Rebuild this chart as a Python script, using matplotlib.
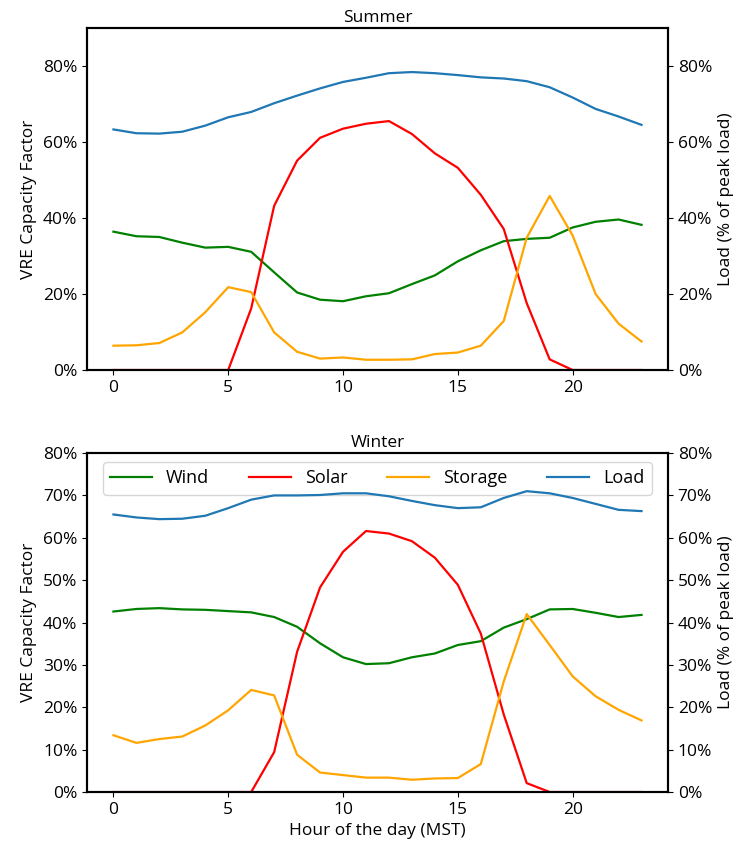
import matplotlib
matplotlib.use("Agg")
import matplotlib.pyplot as plt
from matplotlib.ticker import PercentFormatter

plt.rcParams['font.family'] = ['Open Sans', 'DejaVu Sans']

hours = list(range(24))

summer_wind = [36.4, 35.2, 35.0, 33.5, 32.2, 32.4, 31.1, 25.7, 20.4, 18.5, 18.1, 19.4,
               20.2, 22.6, 24.9, 28.6, 31.5, 33.9, 34.5, 34.8, 37.5, 39.0, 39.6, 38.2]
summer_solar = [0, 0, 0, 0, 0, 0, 16.2, 43.2, 55.1, 61.1, 63.5, 64.8,
                65.5, 62.1, 57.0, 53.2, 46.1, 37.1, 17.6, 2.8, 0, 0, 0, 0]
summer_storage = [6.4, 6.5, 7.1, 9.9, 15.2, 21.8, 20.5, 9.9, 4.8, 3.0, 3.3, 2.7,
                  2.7, 2.8, 4.2, 4.6, 6.4, 12.9, 34.8, 45.8, 35.4, 20.0, 12.2, 7.5]
summer_load = [63.3, 62.3, 62.2, 62.7, 64.3, 66.5, 67.9, 70.2, 72.2, 74.1, 75.8, 76.9,
               78.1, 78.4, 78.1, 77.6, 77.0, 76.7, 76.0, 74.4, 71.7, 68.7, 66.7, 64.5]

winter_wind = [42.6, 43.2, 43.4, 43.1, 43.0, 42.7, 42.4, 41.3, 39.0, 35.1, 31.8, 30.2,
               30.4, 31.8, 32.7, 34.7, 35.6, 38.8, 40.8, 43.1, 43.2, 42.3, 41.3, 41.8]
winter_solar = [0, 0, 0, 0, 0, 0, 0, 9.4, 33.1, 48.3, 56.7, 61.6,
                61.0, 59.2, 55.3, 48.9, 37.4, 18.3, 2.1, 0, 0, 0, 0, 0]
winter_storage = [13.4, 11.6, 12.5, 13.1, 15.7, 19.3, 24.1, 22.8, 8.8, 4.6, 4.0, 3.4,
                  3.4, 2.9, 3.2, 3.3, 6.6, 26.1, 42.0, 34.7, 27.3, 22.6, 19.4, 16.9]
winter_load = [65.5, 64.8, 64.4, 64.5, 65.2, 67.0, 69.0, 70.0, 70.0, 70.1, 70.5, 70.5,
               69.8, 68.7, 67.7, 67.0, 67.2, 69.4, 71.0, 70.5, 69.4, 68.0, 66.6, 66.3]

seasons = ["Summer", "Winter"]
ylims = [0.9, 0.8]
yticks = [[0, 0.2, 0.4, 0.6, 0.8], [0, 0.1, 0.2, 0.3, 0.4, 0.5, 0.6, 0.7, 0.8]]
data = [(summer_wind, summer_solar, summer_storage, summer_load),
        (winter_wind, winter_solar, winter_storage, winter_load)]

fig = plt.figure(figsize=(7.4, 8.5), dpi=100)
rects = [[0.1176, 0.5647, 0.785, 0.4024], [0.1176, 0.0682, 0.785, 0.3988]]

fs = 12.5
for i, (season, ylim, yt, (wind, solar, storage, load)) in enumerate(zip(seasons, ylims, yticks, data)):
    ax = fig.add_axes(rects[i])
    ax2 = ax.twinx()
    l1, = ax.plot(hours, [v / 100 for v in wind], color='green', lw=1.6, label='Wind')
    l2, = ax.plot(hours, [v / 100 for v in solar], color='red', lw=1.6, label='Solar')
    l3, = ax.plot(hours, [v / 100 for v in storage], color='orange', lw=1.6, label='Storage')
    l4, = ax2.plot(hours, [v / 100 for v in load], color='#1f77b4', lw=1.6, label='Load')
    for a in (ax, ax2):
        a.set_ylim(0, ylim)
        a.set_yticks(yt)
        a.yaxis.set_major_formatter(PercentFormatter(1, decimals=0))
        a.tick_params(labelsize=fs)
        for sp in a.spines.values():
            sp.set_linewidth(1.5)
    ax.set_xticks([0, 5, 10, 15, 20])
    ax.set_ylabel('VRE Capacity Factor', fontsize=fs)
    ax2.set_ylabel('Load (% of peak load)', fontsize=fs)
    ax.set_title(season, fontsize=fs, pad=4)
    if i == 1:
        ax.set_xlabel('Hour of the day (MST)', fontsize=fs)
        ax.legend([l1, l2, l3, l4], ['Wind', 'Solar', 'Storage', 'Load'],
                  loc='upper center', ncol=4, fontsize=13, handlelength=2.3,
                  columnspacing=2.2, handletextpad=0.8, borderaxespad=0.5)

fig.savefig('out.png', dpi=100)
